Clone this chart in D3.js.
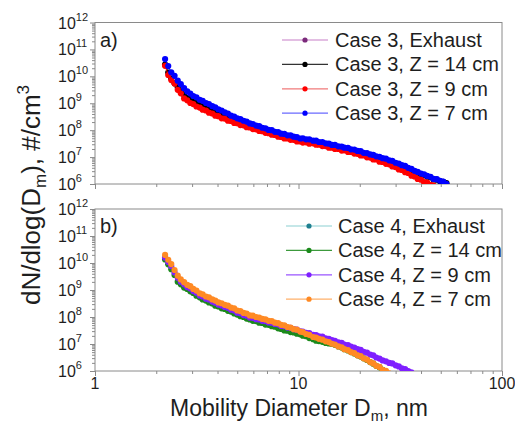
<!DOCTYPE html>
<html><head><meta charset="utf-8">
<script src="https://cdn.jsdelivr.net/npm/d3@7"></script>
<style>body{margin:0;background:#fff}svg{display:block;font-family:Arial,"Liberation Sans",sans-serif}</style>
</head><body><svg id="c" width="515" height="425"></svg>
<script>
// Mobility diameter channels (nm)
const diameters = [2.21, 2.29, 2.37, 2.46, 2.55, 2.64, 2.74, 2.84, 2.94, 3.04,
  3.15, 3.27, 3.38, 3.51, 3.63, 3.77, 3.90, 4.04, 4.19, 4.34,
  4.50, 4.66, 4.83, 5.00, 5.18, 5.37, 5.56, 5.76, 5.97, 6.19,
  6.41, 6.64, 6.88, 7.13, 7.39, 7.66, 7.94, 8.22, 8.52, 8.83,
  9.14, 9.47, 9.82, 10.2, 10.5, 10.9, 11.3, 11.8, 12.2, 12.6,
  13.1, 13.6, 14.1, 14.6, 15.1, 15.7, 16.3, 16.8, 17.5, 18.1,
  18.8, 19.5, 20.2, 20.9, 21.7, 22.5, 23.3, 24.1, 25.0, 25.9,
  26.9, 27.9, 28.9, 30.0, 31.1, 32.2, 33.4, 34.6, 35.9, 37.2,
  38.5, 40.0, 41.4, 42.9, 44.5, 46.1, 47.8, 49.6, 51.4, 53.3];

// log10 of dN/dlog(Dm) (#/cm3)
const case3Exhaust = [];
const case3Z14 = [10.44, 10.14, 9.92, 9.74, 9.59, 9.44, 9.32, 9.19, 9.15, 9.07,
  9.02, 8.92, 8.89, 8.81, 8.77, 8.69, 8.65, 8.57, 8.54, 8.48,
  8.45, 8.38, 8.35, 8.30, 8.28, 8.23, 8.21, 8.15, 8.13, 8.08,
  8.06, 8.01, 7.99, 7.94, 7.93, 7.87, 7.86, 7.80, 7.80, 7.75,
  7.75, 7.70, 7.69, 7.64, 7.65, 7.61, 7.61, 7.56, 7.56, 7.51,
  7.51, 7.46, 7.45, 7.40, 7.40, 7.35, 7.34, 7.30, 7.29, 7.24,
  7.23, 7.18, 7.17, 7.11, 7.10, 7.05, 7.03, 6.98, 6.96, 6.91,
  6.90, 6.84, 6.82, 6.75, 6.72, 6.66, 6.63, 6.56, 6.52, 6.46,
  6.42, 6.36, 6.33, 6.27, 6.25, 6.17, 6.16, 6.10, 6.08, 6.03];
const case3Z9 = [10.39, 10.05, 9.86, 9.73, 9.50, 9.37, 9.18, 9.11, 9.01, 8.97,
  8.88, 8.84, 8.76, 8.73, 8.65, 8.62, 8.54, 8.52, 8.44, 8.43,
  8.35, 8.34, 8.27, 8.26, 8.19, 8.18, 8.11, 8.10, 8.04, 8.03,
  7.97, 7.96, 7.90, 7.89, 7.83, 7.82, 7.76, 7.75, 7.69, 7.69,
  7.64, 7.64, 7.58, 7.58, 7.54, 7.55, 7.50, 7.51, 7.46, 7.46,
  7.41, 7.41, 7.35, 7.35, 7.30, 7.30, 7.24, 7.25, 7.19, 7.19,
  7.13, 7.12, 7.06, 7.06, 6.99, 6.98, 6.91, 6.91, 6.83, 6.82,
  6.75, 6.73, 6.65, 6.63, 6.54, 6.52, 6.44, 6.41, 6.31, 6.28,
  6.19, 6.16, 6.07, 6.05, 5.97, 5.94];
const case3Z7 = [10.64, 10.38, 10.15, 10.02, 9.84, 9.71, 9.56, 9.44, 9.36, 9.27,
  9.22, 9.13, 9.09, 9.01, 8.97, 8.89, 8.85, 8.77, 8.73, 8.66,
  8.62, 8.54, 8.50, 8.44, 8.41, 8.35, 8.32, 8.25, 8.23, 8.17,
  8.15, 8.09, 8.07, 8.01, 8.00, 7.94, 7.93, 7.87, 7.86, 7.81,
  7.81, 7.76, 7.74, 7.69, 7.70, 7.66, 7.66, 7.61, 7.61, 7.56,
  7.56, 7.51, 7.50, 7.45, 7.45, 7.40, 7.39, 7.35, 7.34, 7.29,
  7.28, 7.23, 7.22, 7.16, 7.15, 7.10, 7.08, 7.03, 7.01, 6.96,
  6.94, 6.88, 6.86, 6.79, 6.76, 6.70, 6.67, 6.60, 6.56, 6.49,
  6.45, 6.39, 6.36, 6.30, 6.27, 6.19, 6.18, 6.12, 6.09, 6.01];

const case4Exhaust = [];
const case4Z14 = [10.13, 9.95, 9.77, 9.56, 9.31, 9.21, 9.09, 9.04, 8.95, 8.89,
  8.79, 8.73, 8.65, 8.61, 8.54, 8.50, 8.42, 8.39, 8.32, 8.30,
  8.23, 8.20, 8.13, 8.09, 8.03, 8.00, 7.94, 7.91, 7.86, 7.85,
  7.79, 7.78, 7.72, 7.71, 7.66, 7.64, 7.58, 7.56, 7.50, 7.49,
  7.44, 7.43, 7.38, 7.36, 7.31, 7.29, 7.22, 7.18, 7.12, 7.11,
  7.08, 7.04, 7.02, 7.00, 6.97, 6.91, 6.87, 6.81, 6.76, 6.70,
  6.65, 6.58, 6.54, 6.47, 6.41, 6.33, 6.27, 6.19, 6.14, 6.04];
const case4Z9 = [10.20, 10.04, 9.88, 9.65, 9.45, 9.31, 9.21, 9.11, 9.06, 8.96,
  8.90, 8.80, 8.76, 8.68, 8.65, 8.57, 8.53, 8.46, 8.43, 8.37,
  8.34, 8.27, 8.24, 8.16, 8.14, 8.07, 8.05, 7.98, 7.97, 7.92,
  7.91, 7.86, 7.85, 7.80, 7.79, 7.74, 7.73, 7.67, 7.66, 7.61,
  7.60, 7.55, 7.53, 7.47, 7.46, 7.41, 7.40, 7.34, 7.33, 7.28,
  7.27, 7.21, 7.19, 7.14, 7.12, 7.06, 7.04, 6.98, 6.96, 6.90,
  6.87, 6.81, 6.78, 6.71, 6.68, 6.61, 6.58, 6.50, 6.46, 6.39,
  6.36, 6.30, 6.28, 6.21, 6.17, 6.10, 6.07, 6.00, 5.95];
const case4Z7 = [10.30, 10.12, 9.96, 9.74, 9.53, 9.39, 9.29, 9.19, 9.14, 9.04,
  8.98, 8.88, 8.84, 8.76, 8.73, 8.65, 8.61, 8.54, 8.51, 8.45,
  8.42, 8.35, 8.32, 8.24, 8.22, 8.15, 8.13, 8.06, 8.05, 8.00,
  7.98, 7.93, 7.91, 7.86, 7.85, 7.79, 7.77, 7.71, 7.69, 7.63,
  7.61, 7.55, 7.53, 7.46, 7.44, 7.37, 7.34, 7.26, 7.24, 7.19,
  7.16, 7.10, 7.07, 7.01, 6.98, 6.91, 6.88, 6.81, 6.77, 6.70,
  6.66, 6.58, 6.55, 6.47, 6.42, 6.33, 6.28, 6.19, 6.15, 6.04,
  6.01, 5.91, 5.86];

const case3Names = ["Case 3, Exhaust", "Case 3, Z = 14 cm", "Case 3, Z = 9 cm", "Case 3, Z = 7 cm"];
const case4Names = ["Case 4, Exhaust", "Case 4, Z = 14 cm", "Case 4, Z = 9 cm", "Case 4, Z = 7 cm"];
const case3Colors = ["#7b2a7b", "#000000", "#ff0000", "#0000ff"];
const case3LineColors = ["#c77fc7", "#333333", "#f07a7a", "#6a6aff"];
const case4Colors = ["#1f8090", "#1b8a1b", "#7f1fff", "#ff8a24"];
const case4LineColors = ["#8ccfd2", "#3c9a3c", "#9a55ff", "#ffb06a"];
const xTickLabels = ["1", "10", "100"];
const xDomain = [1, 100];
const yDomain = [1e6, 1e12];

const svg = d3.select("#c");
const defs = svg.append("defs");
const X0 = 95, X1 = 502;
const x = d3.scaleLog().domain(xDomain).range([X0, X1]);
const axisColor = "#8a8a8a";
const textColor = "#1e1e1e";

const panels = [
  {top: 22.5, bottom: 184, label: "a)", labelY: 47,
   series: [case3Exhaust, case3Z14, case3Z9, case3Z7], names: case3Names,
   colors: case3Colors, lineColors: case3LineColors,
   leg: {x0: 282, x1: 328, tx: 335, y0: 40, dy: 24.4}, showX: false},
  {top: 209, bottom: 371, label: "b)", labelY: 233,
   series: [case4Exhaust, case4Z14, case4Z9, case4Z7], names: case4Names,
   colors: case4Colors, lineColors: case4LineColors,
   leg: {x0: 286, x1: 332, tx: 338, y0: 226, dy: 24.4}, showX: true}
];

panels.forEach((p, pi) => {
  const y = d3.scaleLog().domain(yDomain).range([p.bottom, p.top]);
  const g = svg.append("g");

  const yAll = y.ticks();
  const yMajor = yAll.filter(v => Math.abs(Math.log10(v) - Math.round(Math.log10(v))) < 1e-9);
  const yMinor = yAll.filter(v => !yMajor.includes(v));
  const xAll = x.ticks();
  const xMajor = xAll.filter(v => Math.abs(Math.log10(v) - Math.round(Math.log10(v))) < 1e-9);
  const xMinor = xAll.filter(v => !xMajor.includes(v));

  const styleAxis = sel => {
    sel.select(".domain").remove();
    sel.selectAll("line").attr("stroke", axisColor);
  };
  g.append("g").attr("transform", `translate(${X0},0)`)
    .call(d3.axisLeft(y).tickValues(yMinor).tickSize(3).tickFormat("")).call(styleAxis);
  g.append("g").attr("transform", `translate(${X0},0)`)
    .call(d3.axisLeft(y).tickValues(yMajor).tickSize(5).tickFormat("")).call(styleAxis);
  g.append("g").attr("transform", `translate(0,${p.bottom})`)
    .call(d3.axisBottom(x).tickValues(xMinor).tickSize(3).tickFormat("")).call(styleAxis);
  g.append("g").attr("transform", `translate(0,${p.bottom})`)
    .call(d3.axisBottom(x).tickValues(xMajor).tickSize(5).tickFormat("")).call(styleAxis);

  g.append("rect").attr("x", X0).attr("y", p.top).attr("width", X1 - X0).attr("height", p.bottom - p.top)
    .attr("fill", "none").attr("stroke", axisColor).attr("stroke-width", 1);

  // y tick labels 10^n
  yMajor.forEach(v => {
    const t = g.append("text").attr("x", 58).attr("y", y(v) + 6)
      .attr("font-size", 16).attr("fill", textColor);
    t.append("tspan").text("10");
    t.append("tspan").attr("font-size", 11).attr("dy", -8).text(String(Math.round(Math.log10(v))));
  });

  if (p.showX) {
    xMajor.forEach((v, i) => {
      g.append("text").attr("x", x(v)).attr("y", p.bottom + 18).attr("text-anchor", "middle")
        .attr("font-size", 16).attr("fill", textColor).text(xTickLabels[i]);
    });
  }

  // data
  const cid = "clip" + pi;
  defs.append("clipPath").attr("id", cid).append("rect")
    .attr("x", X0).attr("y", p.top).attr("width", X1 - X0).attr("height", p.bottom - p.top);
  const dg = g.append("g").attr("clip-path", `url(#${cid})`);
  const line = d3.line().x(d => x(d[0])).y(d => y(d[1]));
  p.series.forEach((s, si) => {
    const pts = s.map((v, i) => [diameters[i], Math.pow(10, v)]);
    dg.append("path").datum(pts).attr("d", line).attr("fill", "none")
      .attr("stroke", p.colors[si]).attr("stroke-width", 1);
    dg.selectAll(null).data(pts).enter().append("circle")
      .attr("cx", d => x(d[0])).attr("cy", d => y(d[1])).attr("r", 3.1)
      .attr("fill", p.colors[si]);
  });

  // panel label
  g.append("text").attr("x", 100).attr("y", p.labelY).attr("font-size", 20).attr("fill", textColor).text(p.label);

  // legend
  p.names.forEach((n, i) => {
    const ly = p.leg.y0 + i * p.leg.dy;
    g.append("line").attr("x1", p.leg.x0).attr("x2", p.leg.x1).attr("y1", ly).attr("y2", ly)
      .attr("stroke", p.lineColors[i]).attr("stroke-width", 1.2);
    g.append("circle").attr("cx", (p.leg.x0 + p.leg.x1) / 2).attr("cy", ly).attr("r", 2.6).attr("fill", p.colors[i]);
    g.append("text").attr("x", p.leg.tx).attr("y", ly + 7).attr("font-size", 20).attr("fill", textColor).text(n);
  });
});

// axis titles
const xt = svg.append("text").attr("x", 299).attr("y", 416).attr("text-anchor", "middle")
  .attr("font-size", 23).attr("fill", textColor);
xt.append("tspan").text("Mobility Diameter D");
xt.append("tspan").attr("font-size", 15).attr("dy", 5).text("m");
xt.append("tspan").attr("dy", -5).text(", nm");

const yt = svg.append("text").attr("transform", "translate(40,195) rotate(-90)").attr("text-anchor", "middle")
  .attr("font-size", 26).attr("fill", textColor);
yt.append("tspan").text("dN/dlog(D");
yt.append("tspan").attr("font-size", 17).attr("dy", 6).text("m");
yt.append("tspan").attr("dy", -6).text("), #/cm");
yt.append("tspan").attr("font-size", 17).attr("dy", -11).text("3");
</script></body></html>
